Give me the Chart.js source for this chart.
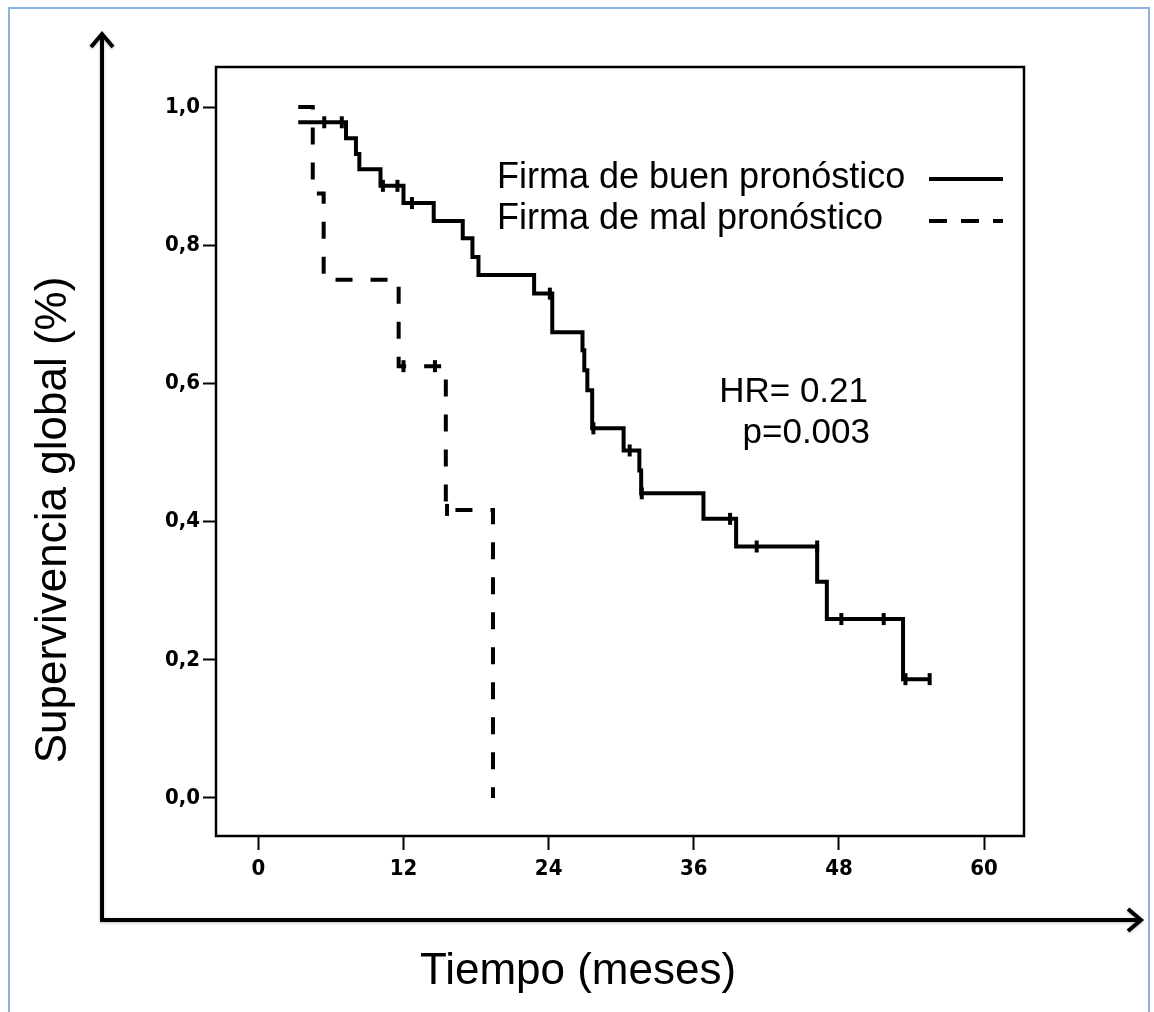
<!DOCTYPE html>
<html>
<head>
<meta charset="utf-8">
<title>Supervivencia global</title>
<script src="https://cdn.jsdelivr.net/npm/chart.js@4.4.1/dist/chart.umd.min.js"></script>
<style>
html, body { margin: 0; padding: 0; background: #fff; }
#chartContainer { width: 1154px; height: 1012px; position: relative; }
</style>
</head>
<body>
<div id="chartContainer"><canvas id="chart"></canvas></div>
<script>
// Firma de buen pronostico: event times (months) and survival after each step
var goodTimes = [3.3, 7.25, 8.07, 8.35, 10.1, 12.0, 14.5, 16.9, 17.7, 18.2, 22.8, 24.3,
                 26.8, 26.95, 27.2, 27.6, 30.2, 31.5, 31.65, 36.8, 39.5, 46.2, 47.0, 53.3, 55.5];
var goodSurv  = [0.978, 0.955, 0.932, 0.910, 0.886, 0.861, 0.835, 0.810, 0.783, 0.757, 0.730, 0.674,
                 0.648, 0.619, 0.590, 0.535, 0.503, 0.474, 0.441, 0.404, 0.364, 0.313, 0.259, 0.172, 0.172];
// censored patients (the little ticks)
var goodCensorTimes = [5.45, 6.9, 10.3, 11.5, 12.7, 24.1, 27.7, 30.7, 31.7, 39.0, 41.2, 46.2, 48.2, 51.7, 53.5, 55.5];
var goodCensorSurv  = [0.978, 0.978, 0.886, 0.886, 0.861, 0.730, 0.535, 0.503, 0.441, 0.404, 0.364, 0.364, 0.259, 0.259, 0.172, 0.172];

// Firma de mal pronostico
var badTimes = [3.3, 4.5, 5.4, 11.6, 15.5, 19.4];
var badSurv  = [1.0, 0.875, 0.75, 0.625, 0.417, 0.0];
var badCensorTimes = [12.0, 14.6, 15.6];
var badCensorSurv  = [0.625, 0.625, 0.417];

var xTicks = [0, 12, 24, 36, 48, 60];
var yTicks = [0, 0.2, 0.4, 0.6, 0.8, 1.0];
var seriesNames = ['Firma de buen pronóstico', 'Firma de mal pronóstico'];
var statLines = ['HR= 0.21', 'p=0.003'];

function toPoints(xs, ys) {
    return xs.map(function(x, i) { return { x: x, y: ys[i] }; });
}

var sansFont = "'Liberation Sans', Arial, Helvetica, sans-serif";
var tickFont = { family: "'Liberation Sans Narrow', 'Arial Narrow', 'DejaVu Sans Condensed', 'Liberation Sans', sans-serif", size: 22, weight: 'bold' };

// frame, big arrows, titles, legend and HR text
var decorPlugin = {
    id: 'decor',
    afterDraw: function(chart) {
        var ctx = chart.ctx;
        var a = chart.chartArea;
        ctx.save();

        // outer slide border
        ctx.strokeStyle = '#8db3e2';
        ctx.lineWidth = 2;
        ctx.strokeRect(9, 8, 1140, 1020);

        // plot box
        ctx.strokeStyle = '#000';
        ctx.lineWidth = 2.5;
        ctx.strokeRect(a.left, a.top, a.right - a.left, a.bottom - a.top);

        // big arrows
        ctx.lineWidth = 4;
        ctx.lineJoin = 'miter';
        ctx.lineCap = 'butt';
        ctx.shadowColor = 'rgba(0,0,0,0.25)';
        ctx.shadowBlur = 3;
        ctx.shadowOffsetY = 1;
        ctx.beginPath();
        ctx.moveTo(102, 922);
        ctx.lineTo(102, 34);
        ctx.moveTo(91, 47);
        ctx.lineTo(102, 34);
        ctx.lineTo(113, 47);
        ctx.moveTo(100, 920);
        ctx.lineTo(1141, 920);
        ctx.moveTo(1128, 909);
        ctx.lineTo(1141, 920);
        ctx.lineTo(1128, 931);
        ctx.stroke();
        ctx.shadowColor = 'transparent';

        // axis titles
        ctx.fillStyle = '#000';
        ctx.font = '44px ' + sansFont;
        ctx.textAlign = 'center';
        ctx.textBaseline = 'middle';
        ctx.fillText('Tiempo (meses)', 578, 972);
        ctx.save();
        ctx.translate(54, 520);
        ctx.rotate(-Math.PI / 2);
        ctx.fillText('Supervivencia global (%)', 0, 0);
        ctx.restore();

        // legend
        ctx.font = '36px ' + sansFont;
        ctx.textAlign = 'left';
        ctx.textBaseline = 'alphabetic';
        ctx.fillText(seriesNames[0], 497, 188);
        ctx.fillText(seriesNames[1], 497, 229);
        ctx.lineWidth = 4;
        ctx.beginPath();
        ctx.moveTo(929, 179);
        ctx.lineTo(1003, 179);
        ctx.stroke();
        ctx.setLineDash([18, 14]);
        ctx.beginPath();
        ctx.moveTo(929, 221);
        ctx.lineTo(1003, 221);
        ctx.stroke();
        ctx.setLineDash([]);

        // hazard ratio
        ctx.font = '35px ' + sansFont;
        ctx.textAlign = 'right';
        ctx.fillText(statLines[0], 868, 402);
        ctx.fillText(statLines[1], 870, 443);
        ctx.restore();
    }
};

window.onload = function() {
    var ctx = document.getElementById('chart').getContext('2d');
    var chart = new Chart(ctx, {
        type: 'line',
        data: {
            datasets: [{
                label: seriesNames[0],
                data: toPoints(goodTimes, goodSurv),
                borderColor: '#000',
                borderWidth: 4,
                stepped: true,
                pointRadius: 0,
                fill: false
            }, {
                label: seriesNames[1],
                data: toPoints(badTimes, badSurv),
                borderColor: '#000',
                borderWidth: 4,
                borderDash: [17, 18],
                stepped: true,
                pointRadius: 0,
                fill: false
            }, {
                label: 'censurados buen',
                type: 'scatter',
                data: toPoints(goodCensorTimes, goodCensorSurv),
                showLine: false,
                pointStyle: 'line',
                rotation: 90,
                pointRadius: 6,
                borderWidth: 4,
                borderColor: '#000'
            }, {
                label: 'censurados mal',
                type: 'scatter',
                data: toPoints(badCensorTimes, badCensorSurv),
                showLine: false,
                pointStyle: 'line',
                rotation: 90,
                pointRadius: 6,
                borderWidth: 4,
                borderColor: '#000'
            }]
        },
        options: {
            responsive: true,
            maintainAspectRatio: false,
            animation: false,
            layout: { padding: { left: 0, right: 130, top: 67, bottom: 0 } },
            plugins: {
                legend: { display: false },
                tooltip: { enabled: false }
            },
            scales: {
                x: {
                    type: 'linear',
                    min: -3.5,
                    max: 63.3,
                    afterBuildTicks: function(scale) {
                        scale.ticks = xTicks.map(function(v) { return { value: v }; });
                    },
                    afterFit: function(scale) { scale.height = 176; },
                    border: { display: false },
                    grid: { drawOnChartArea: false, drawTicks: true, tickLength: 14, tickWidth: 2, color: '#000' },
                    ticks: { color: '#000', font: tickFont, padding: 6, maxRotation: 0 }
                },
                y: {
                    min: -0.055,
                    max: 1.058,
                    afterBuildTicks: function(scale) {
                        scale.ticks = yTicks.map(function(v) { return { value: v }; });
                    },
                    afterFit: function(scale) { scale.width = 216; },
                    border: { display: false },
                    grid: { drawOnChartArea: false, drawTicks: true, tickLength: 13, tickWidth: 2, color: '#000' },
                    ticks: {
                        color: '#000',
                        font: tickFont,
                        padding: 3,
                        callback: function(v) { return v.toFixed(1).replace('.', ','); }
                    }
                }
            }
        },
        plugins: [decorPlugin]
    });
};
</script>
</body>
</html>
